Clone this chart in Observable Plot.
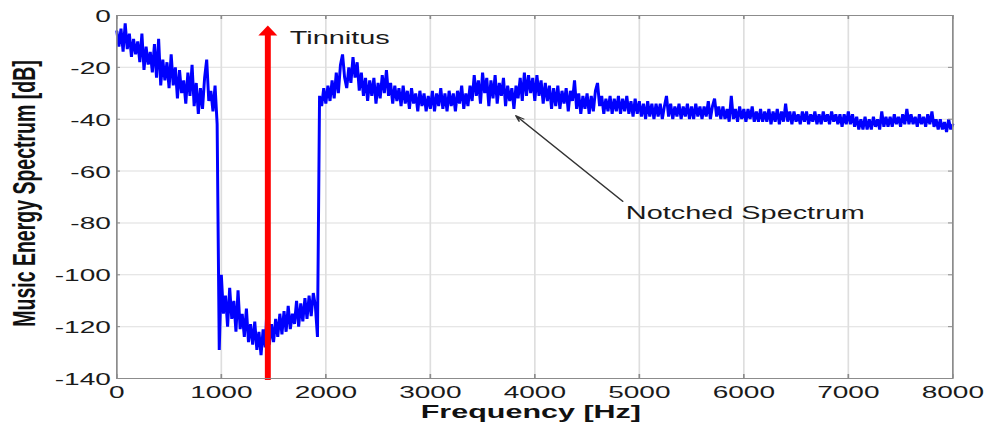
<!DOCTYPE html>
<html><head><meta charset="utf-8">
<script src="https://cdn.jsdelivr.net/npm/d3@7"></script>
<script src="https://cdn.jsdelivr.net/npm/@observablehq/plot@0.6"></script>
<style>html,body{margin:0;padding:0;background:#fff;} #chart svg{display:block;}</style>
</head><body><div id="chart"></div>
<script>
// ---------- data ----------
const xTicks = [0, 1000, 2000, 3000, 4000, 5000, 6000, 7000, 8000];
const yTicks = [0, -20, -40, -60, -80, -100, -120, -140];
const stepHz = 20;

const lowBandStartHz = 0;
const lowBandDb = [
  -6,-12,-5,-14,-3,-13,-7,-16,-9,-15,
  -10,-18,-7,-21,-12,-19,-14,-22,-11,-24,
  -9,-27,-17,-25,-18,-28,-15,-27,-20,-32,
  -21,-30,-25,-34,-22,-31,-19,-35,-26,-38,
  -28,-36,-24,-17,-33,-29,-37,-27,-42
];

const notchStartHz = 980;
const notchDb = [
  -129,-100,-115,-108,-120,-105,-117,-110,-122,-106,-121,
  -115,-124,-113,-126,-119,-127,-118,-129,-122,-131,
  -121,-128,-110,-127,-119,-126,-117,-124,-115,-123,
  -114,-122,-112,-121,-115,-119,-110,-120,-111,-118,
  -109,-117,-108,-116,-107,-112,-124
];

const highBandStartHz = 1940;
const highBandDb = [
  -31,-35,-28,
  -34,-27,-33,-25,-32,-22,-30,-19,-15,-24,
  -28,-20,-26,-16,-24,-18,-29,-22,-31,-24,
  -33,-25,-31,-24,-34,-26,-32,-23,-30,-21,
  -31,-26,-34,-27,-33,-28,-35,-27,-34,-29,
  -36,-28,-34,-30,-37,-29,-35,-30,-37,-31,
  -36,-29,-37,-30,-35,-28,-36,-30,-37,-29,
  -35,-30,-37,-29,-34,-27,-36,-30,-35,-27,
  -33,-23,-31,-25,-34,-22,-30,-24,-35,-25,
  -32,-23,-34,-26,-31,-24,-35,-27,-33,-28,
  -36,-27,-32,-24,-33,-22,-31,-23,-30,-24,
  -33,-23,-31,-25,-34,-26,-33,-27,-36,-28,
  -35,-27,-36,-29,-34,-28,-37,-29,-33,-25,
  -36,-30,-38,-31,-36,-30,-38,-31,-37,-29,
  -26,-35,-31,-38,-32,-37,-31,-38,-32,-37,
  -31,-38,-32,-37,-31,-38,-33,-39,-32,-38,
  -33,-39,-34,-40,-33,-39,-34,-40,-34,-39,
  -34,-40,-35,-31,-39,-34,-40,-35,-39,-34,
  -40,-35,-39,-34,-40,-35,-40,-34,-39,-35,
  -40,-35,-39,-33,-40,-35,-32,-39,-35,-40,
  -35,-40,-36,-41,-31,-40,-36,-41,-35,-40,
  -36,-41,-36,-40,-35,-41,-37,-41,-36,-41,
  -37,-41,-36,-42,-37,-41,-36,-42,-37,-41,
  -34,-41,-37,-42,-37,-41,-38,-42,-37,-41,
  -37,-42,-38,-41,-37,-42,-38,-42,-37,-41,
  -38,-42,-37,-41,-38,-42,-38,-43,-38,-42,
  -37,-42,-38,-43,-39,-44,-40,-44,-39,-44,
  -40,-44,-39,-43,-40,-44,-37,-43,-39,-43,
  -39,-43,-38,-42,-39,-43,-38,-42,-36,-42,
  -38,-42,-39,-43,-38,-42,-39,-43,-38,-42,
  -37,-43,-40,-44,-40,-44,-41,-45,-40,-44,
  -42
];

// annotations
const tinnitusHz = 1445;
const tinnitusBottomDb = -140.8;
const tinnitusTopDb = -6;
const tinnitusTipDb = -3.9;
const tinnitusLabel = {text: "Tinnitus", hz: 1655, db: -8.9};
const notchLabel = {text: "Notched Spectrum", hz: 4871, db: -76.3};
const notchArrow = [{x1: 4842, y1: -71.7, x2: 3818, y2: -38.6}];
const xTitle = "Frequency [Hz]";
const yTitle = "Music Energy Spectrum [dB]";

// ---------- build table ----------
const spectrum = [];
[[lowBandStartHz, lowBandDb], [notchStartHz, notchDb], [highBandStartHz, highBandDb]].forEach(([start, arr]) => {
  arr.forEach((db, i) => spectrum.push({hz: start + i * stepHz, db}));
});

// ---------- layout ----------
const S = 1.65;              // horizontal stretch of the original picture
const W = 987 / S, H = 425;
const mL = 116 / S, mR = 35 / S, mT = 15, mB = 47;
const innerW = W - mL - mR, innerH = H - mT - mB;
const FONT = "'Liberation Sans', Arial, Helvetica, sans-serif";
const gridColor = "#dedede", frameColor = "#8c8c8c";

const chart = Plot.plot({
  width: W, height: H,
  marginLeft: mL, marginRight: mR, marginTop: mT, marginBottom: mB,
  style: {fontFamily: FONT, background: "#fff", overflow: "visible"},
  x: {domain: [0, 8000], axis: null},
  y: {domain: [-140, 0], axis: null},
  marks: [
    Plot.ruleX(xTicks, {stroke: gridColor, strokeWidth: 1}),
    Plot.ruleY(yTicks, {stroke: gridColor, strokeWidth: 1}),
    Plot.line(spectrum, {x: "hz", y: "db", stroke: "#0000ff", strokeWidth: 1.8, strokeLinejoin: "miter"}),
    Plot.ruleX([tinnitusHz], {x: d => d, y1: tinnitusBottomDb, y2: tinnitusTopDb, stroke: "#ff0000", strokeWidth: 3.6}),
    Plot.dot([tinnitusHz], {x: d => d, y: () => tinnitusTipDb, dy: 6.64, symbol: "triangle", r: 4.27, fill: "#ff0000", stroke: "none"}),
    Plot.frame({stroke: frameColor, strokeWidth: 1}),
    Plot.ruleX(xTicks, {insetTop: innerH - 4, stroke: frameColor}),
    Plot.ruleX(xTicks, {insetBottom: innerH - 4, stroke: frameColor}),
    Plot.ruleY(yTicks, {insetRight: innerW - 4 / S, stroke: frameColor}),
    Plot.ruleY(yTicks, {insetLeft: innerW - 4 / S, stroke: frameColor}),
    Plot.text(xTicks, {x: d => d, text: d => String(d), frameAnchor: "bottom", dy: 14.5, lineAnchor: "middle", fontSize: 17, fill: "#1a1a1a"}),
    Plot.text(yTicks, {y: d => d, text: d => String(d), frameAnchor: "left", dx: -3.6, dy: 1, textAnchor: "end", lineAnchor: "middle", fontSize: 17, fill: "#1a1a1a"}),
    Plot.text([xTitle], {text: d => d, frameAnchor: "bottom", dy: 33.5, dx: -2.4, lineAnchor: "middle", fontWeight: "bold", fontSize: 18.5, fill: "#111"}),
    Plot.text([yTitle], {text: d => d, frameAnchor: "left", dx: -55.8, dy: -3.5, rotate: -90, textAnchor: "middle", lineAnchor: "middle", fontWeight: "bold", fontSize: 19.5, fill: "#111"}),
    Plot.text([tinnitusLabel], {x: "hz", y: "db", text: "text", textAnchor: "start", lineAnchor: "middle", fontSize: 17.5, fill: "#1a1a1a"}),
    Plot.text([notchLabel], {x: "hz", y: "db", text: "text", textAnchor: "start", lineAnchor: "middle", fontSize: 17.5, fill: "#1a1a1a"}),
    Plot.arrow(notchArrow, {x1: "x1", y1: "y1", x2: "x2", y2: "y2", stroke: "#333", strokeWidth: 1, headLength: 9, headAngle: 35})
  ]
});

chart.setAttribute("width", 987);
chart.setAttribute("height", 425);
chart.setAttribute("viewBox", `0 0 ${W} ${H}`);
chart.setAttribute("preserveAspectRatio", "none");
chart.style.width = "987px";
chart.style.height = "425px";
chart.style.maxWidth = "none";
document.getElementById("chart").appendChild(chart);
</script>
</body></html>
